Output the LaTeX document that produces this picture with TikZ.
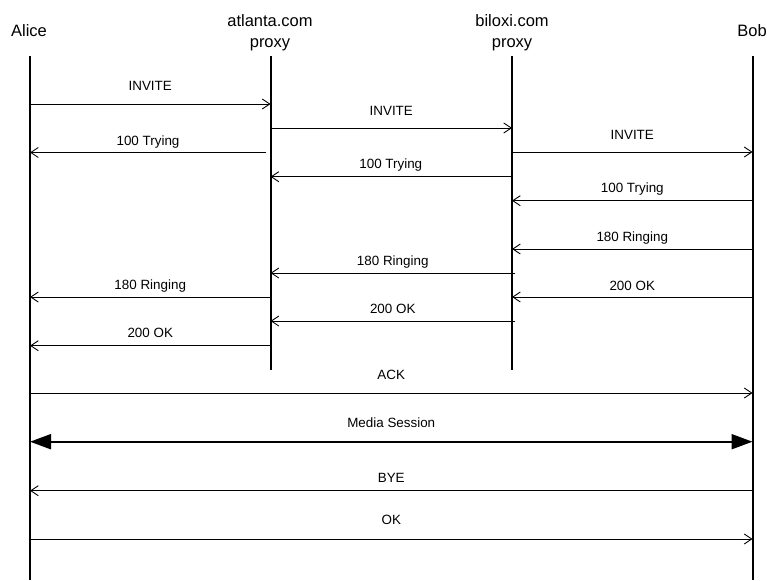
\documentclass[tikz,border=0pt]{standalone}
\usepackage{fontspec}
\setmainfont{Liberation Sans}
\usetikzlibrary{arrows.meta,calc}
\begin{document}
\begin{tikzpicture}[x=1pt,y=-1pt,
  lifeline/.style={line width=2pt},
  msg/.style={line width=0.9pt,-{Straight Barb[length=7.5pt,width=10pt]}},
  media/.style={line width=2pt,
    {Triangle[length=21pt,width=15pt]}-{Triangle[length=21pt,width=15pt]}},
  head/.style={font=\fontsize{16.5}{20}\selectfont, inner sep=0pt, anchor=base},
  lbl/.style={font=\fontsize{13.4}{16}\selectfont, inner sep=0pt, anchor=base},
]
\useasboundingbox (0,0) rectangle (767,580);

% participants
\node[head] (alice) at (29,36.7) {Alice};
\node[head] (atl)   at (270,26.7) {atlanta.com};
\node[head] (atlp)  at (270,48) {proxy};
\node[head] (bil)   at (512,26.7) {biloxi.com};
\node[head] (bilp)  at (512,48) {proxy};
\node[head] (bob)   at (752,36.7) {Bob};

% lifeline tops
\coordinate (la) at (30,56);
\coordinate (lt) at (270.5,56);
\coordinate (lb) at (512,56);
\coordinate (lo) at (752.5,56);

\draw[lifeline] (la) -- (la |- 0,580);
\draw[lifeline] (lt) -- (lt |- 0,370);
\draw[lifeline] (lb) -- (lb |- 0,370);
\draw[lifeline] (lo) -- (lo |- 0,580);

% call setup
\draw[msg] (la |- 0,104) -- node[lbl,yshift=13.2pt] {INVITE} (lt |- 0,104);
\draw[msg] (lt |- 0,128) -- node[lbl,yshift=12.2pt] {INVITE} (lb |- 0,128);
\draw[msg] ($(lt |- 0,152.5)+(-4.5,0)$) -- node[lbl,yshift=6.9pt] {100 Trying} (la |- 0,152.5);
\draw[msg] (lb |- 0,152) -- node[lbl,yshift=12.2pt] {INVITE} (lo |- 0,152);
\draw[msg] ($(lb |- 0,176.7)+(-1,0)$) -- node[lbl,yshift=7.9pt] {100 Trying} (lt |- 0,176.7);
\draw[msg] (lo |- 0,200.7) -- node[lbl,yshift=7.9pt] {100 Trying} (lb |- 0,200.7);
\draw[msg] (lo |- 0,249) -- node[lbl,yshift=7.2pt] {180 Ringing} (lb |- 0,249);
\draw[msg] ($(lb |- 0,273)+(3,0)$) -- node[lbl,yshift=7.2pt] {180 Ringing} (lt |- 0,273);
\draw[msg] (lt |- 0,297) -- node[lbl,yshift=7.2pt] {180 Ringing} (la |- 0,297);
\draw[msg] (lo |- 0,297) -- node[lbl,yshift=6.7pt] {200 OK} (lb |- 0,297);
\draw[msg] ($(lb |- 0,321)+(3,0)$) -- node[lbl,yshift=7.2pt] {200 OK} (lt |- 0,321);
\draw[msg] (lt |- 0,345.7) -- node[lbl,yshift=7.9pt] {200 OK} (la |- 0,345.7);

% end to end
\draw[msg] (la |- 0,393) -- node[lbl,yshift=13.2pt] {ACK} (lo |- 0,393);
\draw[media] (la |- 0,441.7) -- node[lbl,yshift=13.9pt] {Media Session} (lo |- 0,441.7);
\draw[msg] (lo |- 0,490.7) -- node[lbl,yshift=7.9pt] {BYE} (la |- 0,490.7);
\draw[msg] (la |- 0,539) -- node[lbl,yshift=14.2pt] {OK} (lo |- 0,539);
\end{tikzpicture}
\end{document}
